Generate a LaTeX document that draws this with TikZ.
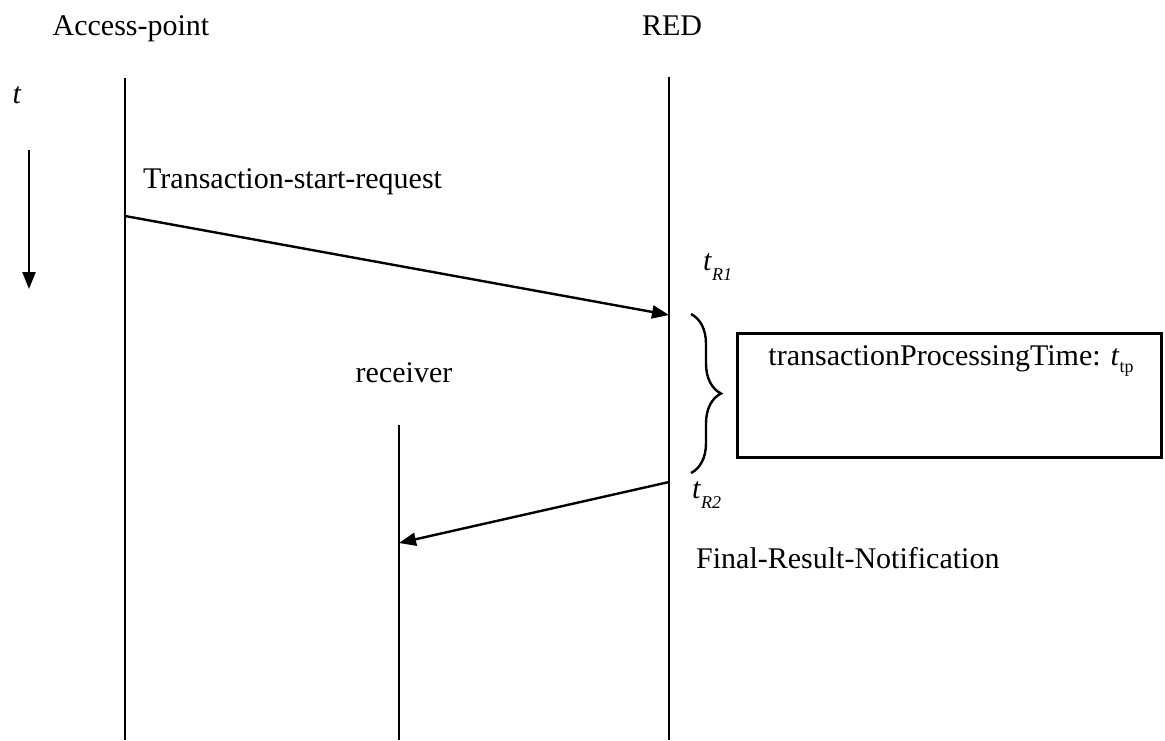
\documentclass[tikz,border=0pt]{standalone}
\usepackage{fontspec}
\setmainfont{Liberation Serif}
\usetikzlibrary{arrows.meta,decorations.pathreplacing}

\begin{document}
\begin{tikzpicture}[x=1pt,y=-1pt,
  lbl/.style={font=\fontsize{30}{36}\selectfont, inner sep=0pt, anchor=base},
  life/.style={line width=2.6pt},
  msg/.style={line width=2.4pt, -{Triangle[length=17pt,width=13pt]}},
]
\useasboundingbox (0,0) rectangle (1165,740);

% participant names and the time axis label
\node[lbl] (ap) at (131,35) {Access-point};
\node[lbl] (red) at (672,35) {RED};
\node[lbl] (tlab) at (17,103) {\textit{t}};

% lifeline end points
\coordinate (apT) at (125,78);  \coordinate (apB) at (125,740);
\coordinate (redT) at (669,77); \coordinate (redB) at (669,740);
\coordinate (rcT) at (399,425); \coordinate (rcB) at (399,740);
\coordinate (tA) at (29,150);   \coordinate (tB) at (29,289);

\draw[life] (apT) -- (apB);
\draw[life] (redT) -- (redB);
\draw[life] (rcT) -- (rcB);
\draw[msg] (tA) -- (tB);

% messages
\coordinate (m1s) at (125,216); \coordinate (m1e) at (669,315);
\coordinate (m2s) at (669,482); \coordinate (m2e) at (399,543);
\draw[msg] (m1s) -- (m1e);
\draw[msg] (m2s) -- (m2e);

\node[lbl, anchor=base west] (req) at (143,188) {Transaction-start-request};
\node[lbl] (recv) at (404,382) {receiver};
\node[lbl, anchor=base west] (fin) at (696,568) {Final-Result-Notification};

% time stamps on the RED lifeline
\node[lbl, anchor=base west] (tr1) at (703,270)
  {\textit{t}\raisebox{-10pt}{\fontsize{18}{18}\selectfont\itshape R1}};
\node[lbl, anchor=base west] (tr2) at (692,498)
  {\textit{t}\raisebox{-10pt}{\fontsize{18}{18}\selectfont\itshape R2}};

% processing interval
\coordinate (brT) at (691,314); \coordinate (brB) at (691,473);
\draw[line width=2.4pt, decorate, decoration={brace, amplitude=30pt}] (brT) -- (brB);

\node[draw, line width=2.6pt, minimum width=424pt, minimum height=124pt, inner sep=0pt]
  (box) at (949.5,395.5) {};
\node[lbl] (boxtext) at (951,365)
  {transactionProcessingTime: \textit{t}\raisebox{-7pt}{\fontsize{18}{18}\selectfont tp}};
\end{tikzpicture}
\end{document}
